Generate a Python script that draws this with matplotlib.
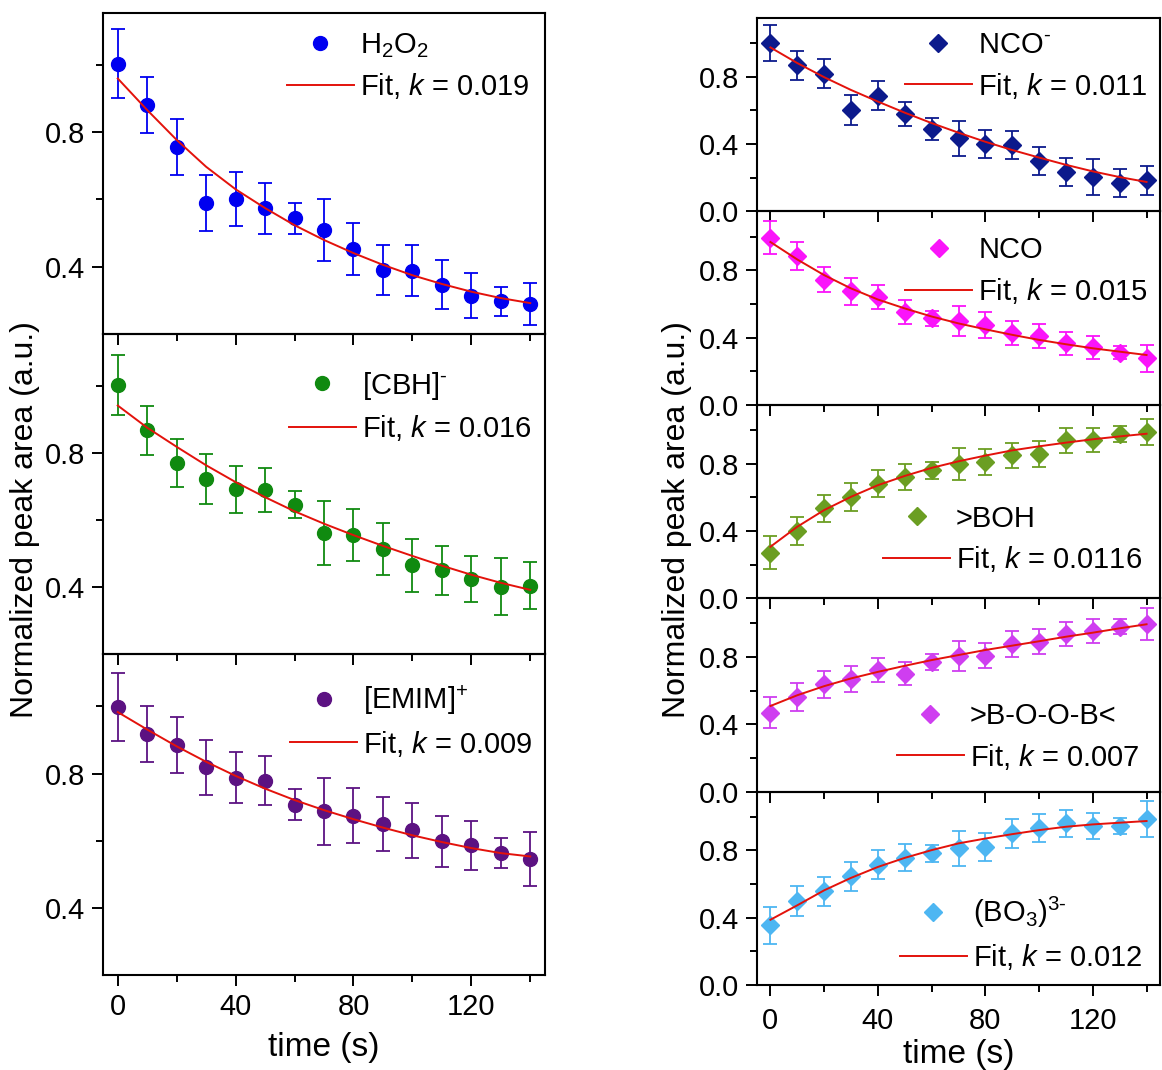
import matplotlib
matplotlib.use('Agg')

from matplotlib import pyplot as plt
from matplotlib.lines import Line2D

plt.rcParams['font.family'] = ['Liberation Sans', 'DejaVu Sans']
plt.rcParams['mathtext.fontset'] = 'custom'
plt.rcParams['mathtext.rm'] = 'Liberation Sans'
plt.rcParams['mathtext.it'] = 'Liberation Sans:italic'

time_s = [0, 10, 20, 30, 40, 50, 60, 70, 80, 90, 100, 110, 120, 130, 140]

# left column (circles)
h2o2 = [1.004, 0.881, 0.755, 0.590, 0.602, 0.573, 0.543, 0.509, 0.453, 0.390, 0.387, 0.346, 0.313, 0.296, 0.288]
h2o2_err = [0.103, 0.084, 0.083, 0.084, 0.080, 0.077, 0.047, 0.092, 0.077, 0.075, 0.076, 0.072, 0.067, 0.043, 0.063]
h2o2_fit = [0.960, 0.866, 0.777, 0.697, 0.630, 0.574, 0.523, 0.479, 0.440, 0.405, 0.374, 0.348, 0.325, 0.306, 0.291]

cbh = [1.002, 0.867, 0.770, 0.722, 0.691, 0.689, 0.646, 0.561, 0.556, 0.513, 0.465, 0.450, 0.424, 0.402, 0.404]
cbh_err = [0.090, 0.074, 0.072, 0.074, 0.069, 0.066, 0.039, 0.095, 0.077, 0.077, 0.079, 0.074, 0.069, 0.085, 0.070]
cbh_fit = [0.941, 0.875, 0.818, 0.763, 0.713, 0.668, 0.626, 0.589, 0.555, 0.523, 0.493, 0.464, 0.437, 0.413, 0.392]

emim = [0.999, 0.918, 0.886, 0.818, 0.787, 0.778, 0.707, 0.687, 0.674, 0.649, 0.631, 0.599, 0.586, 0.563, 0.546]
emim_err = [0.101, 0.083, 0.083, 0.082, 0.076, 0.073, 0.046, 0.100, 0.082, 0.080, 0.082, 0.076, 0.074, 0.045, 0.081]
emim_fit = [0.983, 0.931, 0.881, 0.835, 0.793, 0.755, 0.721, 0.691, 0.664, 0.639, 0.616, 0.596, 0.578, 0.563, 0.553]

# right column (diamonds)
nco_minus = [1.001, 0.868, 0.818, 0.603, 0.689, 0.579, 0.490, 0.434, 0.400, 0.394, 0.300, 0.235, 0.205, 0.169, 0.185]
nco_minus_err = [0.105, 0.086, 0.087, 0.087, 0.085, 0.073, 0.065, 0.105, 0.085, 0.084, 0.085, 0.082, 0.105, 0.086, 0.086]
nco_minus_fit = [0.975, 0.882, 0.798, 0.722, 0.653, 0.587, 0.525, 0.468, 0.414, 0.365, 0.320, 0.277, 0.238, 0.204, 0.175]

nco = [0.994, 0.885, 0.745, 0.676, 0.642, 0.553, 0.514, 0.500, 0.474, 0.425, 0.409, 0.366, 0.342, 0.310, 0.277]
nco_err = [0.100, 0.082, 0.077, 0.080, 0.072, 0.070, 0.045, 0.090, 0.077, 0.071, 0.074, 0.069, 0.069, 0.040, 0.079]
nco_fit = [0.968, 0.864, 0.771, 0.692, 0.626, 0.573, 0.525, 0.484, 0.449, 0.416, 0.386, 0.360, 0.336, 0.316, 0.296]

boh = [0.271, 0.401, 0.534, 0.603, 0.682, 0.721, 0.761, 0.796, 0.810, 0.850, 0.856, 0.939, 0.939, 0.974, 0.988]
boh_err = [0.100, 0.082, 0.082, 0.084, 0.079, 0.079, 0.050, 0.096, 0.079, 0.074, 0.076, 0.074, 0.071, 0.047, 0.075]
boh_fit = [0.306, 0.425, 0.524, 0.603, 0.672, 0.727, 0.775, 0.814, 0.848, 0.879, 0.903, 0.925, 0.945, 0.962, 0.978]

boob = [0.470, 0.563, 0.639, 0.667, 0.722, 0.702, 0.772, 0.806, 0.808, 0.878, 0.892, 0.935, 0.957, 0.981, 0.997]
boob_err = [0.090, 0.083, 0.080, 0.077, 0.070, 0.067, 0.048, 0.090, 0.076, 0.075, 0.075, 0.072, 0.072, 0.044, 0.093]
boob_fit = [0.509, 0.573, 0.627, 0.673, 0.712, 0.748, 0.782, 0.812, 0.842, 0.868, 0.894, 0.921, 0.945, 0.971, 0.995]

bo3 = [0.354, 0.497, 0.557, 0.647, 0.716, 0.756, 0.782, 0.812, 0.822, 0.901, 0.931, 0.961, 0.945, 0.945, 0.987]
bo3_err = [0.108, 0.089, 0.085, 0.087, 0.085, 0.080, 0.048, 0.104, 0.082, 0.084, 0.083, 0.078, 0.078, 0.048, 0.107]
bo3_fit = [0.388, 0.474, 0.563, 0.637, 0.702, 0.756, 0.802, 0.842, 0.871, 0.897, 0.921, 0.941, 0.955, 0.965, 0.975]

left_labels = [r'H$_2$O$_2$', r'[CBH]$^{\text{-}}$', r'[EMIM]$^{+}$']
left_k = ['0.019', '0.016', '0.009']
right_labels = [r'NCO$^{\text{-}}$', 'NCO', '>BOH', '>B-O-O-B<', r'(BO$_3$)$^{\text{3-}}$']
right_k = ['0.011', '0.015', '0.0116', '0.007', '0.012']

W, H = 1162, 1070
FIT_COLOR = '#e3120b'


def px_rect(x0, x1, top, bottom):
    return [x0 / W, 1 - bottom / H, (x1 - x0) / W, (bottom - top) / H]


def draw_panel(ax, y, err, fit, name, k, color, marker, ms, leg_loc, leg_anchor):
    ax.set_facecolor('none')
    ax.errorbar(time_s, y, yerr=err, fmt=marker, color=color, ms=ms, capsize=5,
                elinewidth=1.3, capthick=1.3, zorder=2)
    fit_line, = ax.plot(time_s, fit, color=FIT_COLOR, lw=1.4, zorder=3)
    handles = [Line2D([], [], ls='none', marker=marker, color=color, ms=ms), fit_line]
    ax.legend(handles, [name, 'Fit, $k$ = ' + k], loc=leg_loc, bbox_to_anchor=leg_anchor,
              frameon=False, fontsize=21, borderpad=0, borderaxespad=0,
              handlelength=2.3, handletextpad=0.2, labelspacing=0.4)
    ax.set_xlim(-5, 145)
    ax.set_xticks([0, 40, 80, 120])
    ax.set_xticks([20, 60, 100, 140], minor=True)
    for s in ax.spines.values():
        s.set_linewidth(1.5)
    ax.tick_params(which='major', direction='out', length=8, width=1.4, labelsize=21,
                   pad=5, top=False, right=False)
    ax.tick_params(which='minor', direction='out', length=5, width=1.4, top=False, right=False)


fig = plt.figure(figsize=(W / 100, H / 100), dpi=100)

# left column
left_series = [(h2o2, h2o2_err, h2o2_fit, '#0000f0'),
               (cbh, cbh_err, cbh_fit, '#108a10'),
               (emim, emim_err, emim_fit, '#5c1282')]
left_anchor = [(0.416, 0.944), (0.42, 0.888), (0.423, 0.91)]
l_top, l_bot = 13, 975
l_h = (l_bot - l_top) / 3
for i, (y, err, fit, color) in enumerate(left_series):
    ax = fig.add_axes(px_rect(103, 545, l_top + i * l_h, l_top + (i + 1) * l_h))
    draw_panel(ax, y, err, fit, left_labels[i], left_k[i], color, 'o', 10, 'upper left', left_anchor[i])
    ax.set_ylim(0.2, 1.155)
    ax.set_yticks([0.4, 0.8])
    ax.set_yticks([0.6, 1.0], minor=True)
    ax.set_yticklabels(['0.4', '0.8'])
    if i < 2:
        ax.tick_params(labelbottom=False)
    else:
        ax.set_xlabel('time (s)', fontsize=24, labelpad=8)

# right column
right_series = [(nco_minus, nco_minus_err, nco_minus_fit, '#0c1a8c'),
                (nco, nco_err, nco_fit, '#fa14fa'),
                (boh, boh_err, boh_fit, '#6b9e22'),
                (boob, boob_err, boob_fit, '#cf3ef0'),
                (bo3, bo3_err, bo3_fit, '#4db6f2')]
right_leg = [('upper left', (0.367, 0.933)), ('upper left', (0.368, 0.871)),
             ('lower left', (0.313, 0.124)), ('lower left', (0.347, 0.103)),
             ('lower left', (0.354, 0.067))]
r_top, r_bot = 18, 985
r_h = (r_bot - r_top) / 5
for i, (y, err, fit, color) in enumerate(right_series):
    ax = fig.add_axes(px_rect(757, 1160, r_top + i * r_h, r_top + (i + 1) * r_h))
    draw_panel(ax, y, err, fit, right_labels[i], right_k[i], color, 'D', 9,
               right_leg[i][0], right_leg[i][1])
    ax.set_ylim(0, 1.15)
    ax.set_yticks([0.0, 0.4, 0.8])
    ax.set_yticks([0.2, 0.6, 1.0], minor=True)
    ax.set_yticklabels(['0.0', '0.4', '0.8'])
    if i < 4:
        ax.tick_params(labelbottom=False)
    else:
        ax.tick_params(axis='x', which='major', pad=8)
        ax.set_xlabel('time (s)', fontsize=24, labelpad=3)

fig.text(25 / W, 1 - 520 / H, 'Normalized peak area (a.u.)', rotation=90,
         ha='center', va='center', fontsize=23)
fig.text(677 / W, 1 - 520 / H, 'Normalized peak area (a.u.)', rotation=90,
         ha='center', va='center', fontsize=23)

fig.savefig('out.png', dpi=100)
